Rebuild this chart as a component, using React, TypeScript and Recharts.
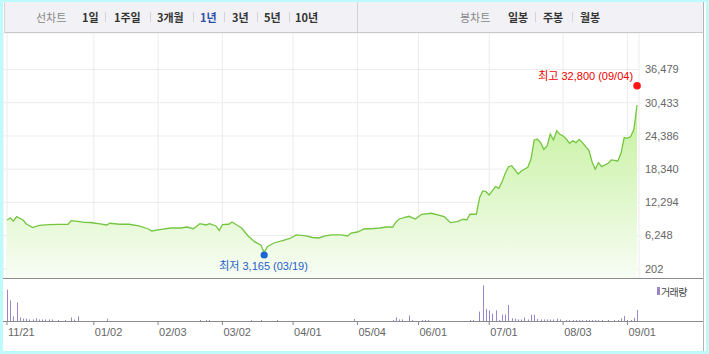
import React from "react";
import {
  AreaChart,
  Area,
  BarChart,
  Bar,
  XAxis,
  YAxis,
  CartesianGrid,
  ReferenceDot,
} from "recharts";

// trading-day number counted from 11/21 (0) to 09/04 (196)
const priceDay = [
  0, 1, 2, 3, 5, 6, 8, 10, 13, 16, 19, 20, 22, 24, 26, 27, 29, 31, 32, 35, 38,
  41, 44, 45, 48, 51, 54, 56, 58, 60, 62, 63, 65, 66, 67, 69, 70, 72, 73, 75,
  77, 79, 80, 81, 83, 86, 88, 90, 93, 95, 97, 99, 101, 104, 106, 107, 109, 111,
  114, 116, 118, 120, 121, 122, 125, 127, 129, 132, 136, 138, 140, 142, 143,
  144, 146, 147, 148, 149, 150, 151, 152, 153, 154, 155, 156, 157, 159, 160,
  162, 163, 164, 165, 166, 167, 168, 169, 170, 171, 172, 173, 174, 175, 176,
  177, 178, 179, 180, 181, 182, 183, 184, 185, 187, 188, 190, 191, 192, 193,
  194, 195, 196,
];
const priceClose = [
  9090, 9450, 8910, 9690, 9090, 8360, 7720, 8090, 8230, 8270, 8310, 8960, 8820,
  8670, 8630, 8540, 8360, 8180, 8490, 8310, 8310, 8000, 7450, 7090, 7360, 7630,
  7630, 7810, 7500, 8420, 8180, 8420, 8000, 7180, 8230, 8310, 8720, 8000, 7630,
  6180, 5140, 4480, 3165, 4230, 4900, 5390, 5720, 6360, 6180, 5900, 5810, 6180,
  6360, 6360, 6180, 6720, 6900, 7450, 7540, 7630, 7810, 7810, 8720, 9270, 9760,
  9270, 10130, 10310, 9690, 8600, 8780, 9220, 9090, 10130, 10130, 13150, 14370,
  14240, 13640, 14420, 15150, 14860, 16060, 17590, 18790, 18970, 17460, 18000,
  18680, 20130, 23650, 23770, 23160, 21950, 22560, 24740, 23650, 25340, 24680,
  24370, 23830, 23050, 23520, 23160, 23770, 23160, 22430, 21830, 19700, 18320,
  19520, 18790, 19410, 20010, 19830, 21230, 24100, 23960, 24290, 25560, 30020,
];

const volDay = [
  0, 1, 2, 3, 4, 5, 6, 7, 8, 9, 10, 11, 12, 13, 14, 16, 18, 20, 21, 22, 31, 60,
  62, 63, 76, 79, 84, 108, 120, 121, 122, 123, 125, 126, 129, 130, 131, 144,
  145, 147, 148, 149, 150, 151, 152, 153, 154, 155, 156, 157, 158, 159, 160,
  161, 162, 163, 164, 165, 166, 167, 168, 169, 170, 171, 172, 174, 175, 176,
  177, 178, 179, 180, 181, 182, 183, 184, 185, 187, 189, 190, 191, 192, 193,
  194, 195, 196,
];
const volAmount = [
  800, 525, 120, 475, 90, 60, 60, 40, 40, 70, 40, 40, 40, 40, 40, 25, 25, 90,
  40, 120, 60, 25, 25, 25, 25, 25, 25, 50, 25, 90, 40, 40, 140, 25, 25, 25, 25,
  25, 25, 240, 910, 310, 270, 190, 270, 25, 160, 160, 410, 70, 60, 40, 40, 90,
  40, 160, 160, 50, 40, 40, 40, 40, 40, 60, 40, 25, 25, 25, 25, 25, 25, 25, 25,
  25, 25, 25, 25, 25, 25, 25, 70, 130, 25, 25, 80, 280,
];

const tickDay = [0, 27, 47, 67, 89, 109, 128, 150, 173, 193];
const tickLabel = [
  "11/21", "01/02", "02/03", "03/02", "04/01",
  "05/04", "06/01", "07/01", "08/03", "09/01",
];
const yTicks = [202, 6248, 12294, 18340, 24386, 30433, 36479];

const high = { day: 196, value: 32800, date: "09/04" };
const low = { day: 80, value: 3165, date: "03/19" };

const lineMenu = ["1일", "1주일", "3개월", "1년", "3년", "5년", "10년"];
const candleMenu = ["일봉", "주봉", "월봉"];

const FONT = "'Liberation Sans', 'Noto Sans CJK KR', sans-serif";
const KFONT = "'Noto Sans CJK KR', sans-serif";
const X_DOMAIN: [number, number] = [-1.245, 196.6];

const fmt = (v: number) => String(v).replace(/\B(?=(\d{3})+(?!\d))/g, ",");

const priceData = priceDay.map((day, i) => ({ day, close: priceClose[i] }));
const volData = volDay.map((day, i) => ({ day, vol: volAmount[i] }));

const HighMark = (p: any) => (
  <g>
    <text
      x={p.cx - 4}
      y={p.cy - 14}
      textAnchor="end"
      dominantBaseline="central"
      fill="#f00000"
      fontSize={11}
      fontFamily={FONT}
    >
      {`최고 ${fmt(high.value)} (${high.date})`}
    </text>
    <circle cx={p.cx} cy={p.cy - 4} r={3.8} fill="#ff1414" />
  </g>
);

const LowMark = (p: any) => (
  <g>
    <circle cx={p.cx} cy={p.cy + 2.5} r={3.6} fill="#1d63d4" />
    <text
      x={p.cx - 45}
      y={p.cy + 13.5}
      dominantBaseline="central"
      fill="#1f5fc8"
      fontSize={11}
      fontFamily={FONT}
    >
      {`최저 ${fmt(low.value)} (${low.date})`}
    </text>
  </g>
);

const DateTick = (p: any) => (
  <text
    x={p.x + 1}
    y={p.y}
    dy="0.71em"
    fill="#666"
    fontSize={11}
    fontFamily={FONT}
  >
    {tickLabel[tickDay.indexOf(p.payload.value)]}
  </text>
);

const VolBar = (p: any) =>
  p.height > 0 ? (
    <rect x={Math.round(p.x + p.width / 2)} y={p.y} width={1} height={p.height} fill="#9985cc" />
  ) : null;

const abs = (style: React.CSSProperties): React.CSSProperties => ({ position: "absolute", ...style });

export default function App() {
  const menuLeft = [82, 114, 157, 200, 232, 264, 295];
  const menuSep = [105, 150, 193, 224, 257, 289];
  const candleLeft = [508, 543, 580];
  const candleSep = [535, 572];
  const item = (active: boolean): React.CSSProperties => ({
    fontFamily: KFONT,
    fontSize: 11,
    fontWeight: 700,
    color: active ? "#2e50aa" : "#333",
    lineHeight: "30px",
    top: 2,
    position: "absolute",
    whiteSpace: "nowrap",
  });

  return (
    <div style={{ position: "relative", width: 709, height: 354, background: "#bdfafb", overflow: "hidden" }}>
      <style>{"body{margin:0}"}</style>
      <div style={abs({ left: 3, top: 2, width: 703, height: 349, background: "#fff" })} />

      {/* menu bar */}
      <div
        style={abs({
          left: 4,
          top: 2,
          width: 698,
          height: 30,
          background: "#f2f2f6",
          borderLeft: "1px solid #d6d6d6",
          borderBottom: "1px solid #c8c8c8",
        })}
      />
      <div style={abs({ left: 357, top: 2, width: 1, height: 30, background: "#d2d2d2" })} />
      <span style={{ ...item(false), left: 36, fontWeight: 400, color: "#888" }}>선차트</span>
      {lineMenu.map((m, i) => (
        <span key={m} style={{ ...item(m === "1년"), left: menuLeft[i] }}>
          {m}
        </span>
      ))}
      {menuSep.map((x) => (
        <div key={x} style={abs({ left: x, top: 12, width: 1, height: 10, background: "#d4d4d4" })} />
      ))}
      <span style={{ ...item(false), left: 460, fontWeight: 400, color: "#888" }}>봉차트</span>
      {candleMenu.map((m, i) => (
        <span key={m} style={{ ...item(false), left: candleLeft[i] }}>
          {m}
        </span>
      ))}
      {candleSep.map((x) => (
        <div key={x} style={abs({ left: x, top: 12, width: 1, height: 10, background: "#d4d4d4" })} />
      ))}

      {/* price chart */}
      <div style={abs({ left: 3, top: 33 })}>
        <AreaChart width={700} height={245} data={priceData} margin={{ top: 0, right: 0, bottom: 0, left: 0 }}>
          <defs>
            <linearGradient id="priceFill" x1="0" y1="0" x2="0" y2="1">
              <stop offset="0%" stopColor="#c4f19d" />
              <stop offset="100%" stopColor="#f8fdf4" />
            </linearGradient>
          </defs>
          <CartesianGrid stroke="#ececec" />
          <XAxis dataKey="day" type="number" domain={X_DOMAIN} ticks={tickDay} hide allowDataOverflow />
          <YAxis
            orientation="right"
            width={64}
            domain={[-1473, 43123]}
            ticks={yTicks}
            interval={0}
            axisLine={false}
            tickLine={false}
            tickSize={4}
            tickMargin={2}
            tick={{ fill: "#666", fontSize: 11, fontFamily: FONT, textAnchor: "start" }}
            tickFormatter={fmt}
            allowDataOverflow
          />
          <Area
            type="linear"
            dataKey="close"
            stroke="#74c63f"
            strokeWidth={1.3}
            fill="url(#priceFill)"
            fillOpacity={1}
            baseValue="dataMin"
            dot={false}
            activeDot={false}
            isAnimationActive={false}
          />
          <ReferenceDot x={high.day} y={high.value} shape={HighMark} />
          <ReferenceDot x={low.day} y={low.value} shape={LowMark} />
        </AreaChart>
      </div>

      <div style={abs({ left: 3, top: 278, width: 700, height: 1, background: "#8c8c8c" })} />

      {/* volume chart */}
      <div style={abs({ left: 3, top: 279 })}>
        <BarChart width={700} height={71} data={volData} margin={{ top: 6, right: 64, bottom: 0, left: 0 }}>
          <XAxis
            dataKey="day"
            type="number"
            domain={X_DOMAIN}
            ticks={tickDay}
            interval={0}
            height={29}
            axisLine={false}
            tickLine={{ stroke: "#888" }}
            tickSize={4}
            tickMargin={3}
            tick={<DateTick />}
            allowDataOverflow
          />
          <YAxis hide domain={[0, 920]} />
          <Bar dataKey="vol" barSize={1} fill="#9985cc" shape={VolBar} isAnimationActive={false} />
        </BarChart>
      </div>
      <div style={abs({ left: 3, top: 321, width: 700, height: 1, background: "#8c8c8c" })} />

      {/* volume legend */}
      <div style={abs({ left: 657, top: 287, width: 3, height: 8, background: "#9985cc" })} />
      <span
        style={abs({
          left: 661,
          top: 284,
          fontFamily: KFONT,
          fontSize: 10,
          letterSpacing: -0.6,
          color: "#444",
          lineHeight: "15px",
        })}
      >
        거래량
      </span>

      <div style={abs({ left: 703, top: 2, width: 1, height: 349, background: "#b4b4b4" })} />
    </div>
  );
}
